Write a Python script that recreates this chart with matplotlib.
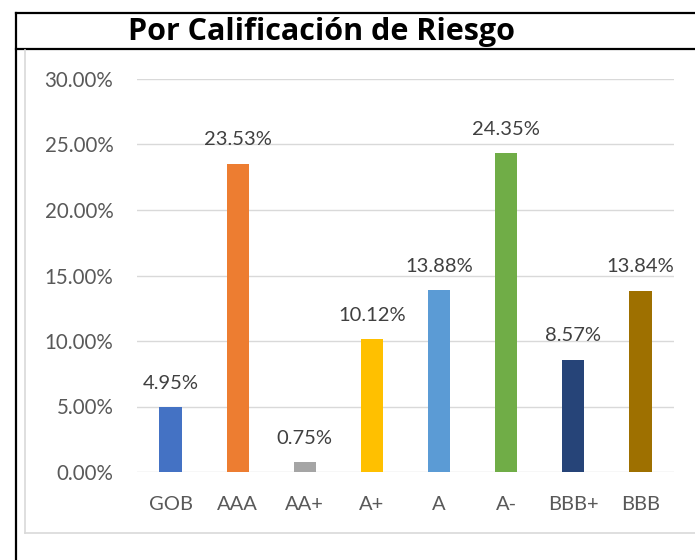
import numpy as np
import matplotlib
matplotlib.use('Agg')
import matplotlib.pyplot as plt
from matplotlib.lines import Line2D

# data
categories = ['GOB', 'AAA', 'AA+', 'A+', 'A', 'A-', 'BBB+', 'BBB']
values = [4.95, 23.53, 0.75, 10.12, 13.88, 24.35, 8.57, 13.84]
colors = ['#4472C4', '#ED7D31', '#A5A5A5', '#FFC000', '#5B9BD5', '#70AD47', '#264478', '#9E7000']
yticks = [0, 5, 10, 15, 20, 25, 30]

W, H = 695, 560
fig = plt.figure(figsize=(W/100, H/100), dpi=100)
plt.rcParams['font.family'] = ['Lato', 'DejaVu Sans']

# frame lines (pixel coords -> figure fraction)
def fx(x): return x/W
def fy(y): return 1 - y/H

black = dict(color='black', linewidth=1.6, transform=fig.transFigure)
fig.add_artist(Line2D([fx(16), 1.0], [fy(13), fy(13)], **black))
fig.add_artist(Line2D([fx(16), fx(16)], [fy(13), 0.0], **black))
fig.add_artist(Line2D([fx(16), 1.0], [fy(49), fy(49)], **black))

grey = dict(color='#d9d9d9', linewidth=1.2, transform=fig.transFigure)
fig.add_artist(Line2D([fx(25), fx(25)], [fy(50), fy(533)], **grey))
fig.add_artist(Line2D([fx(25), 1.0], [fy(533), fy(533)], **grey))

fig.text(fx(322), fy(32), 'Por Calificación de Riesgo', ha='center', va='center',
         fontsize=22, fontweight='bold', family=['Open Sans', 'DejaVu Sans'])

ax = fig.add_axes([fx(137), fy(472), fx(674) - fx(137), fy(79) - fy(472)])
x = np.arange(len(categories))
ax.bar(x, values, width=0.33, color=colors, zorder=3)

for xi, v in zip(x, values):
    ax.annotate('%.2f%%' % v, (xi, v), xytext=(0, 11), textcoords='offset points',
                ha='center', va='bottom', fontsize=14.5, color='#404040')

ax.set_xlim(-0.5, len(categories) - 0.5)
ax.set_ylim(0, 30)
ax.set_yticks(yticks)
ax.set_yticklabels(['%.2f%%' % t for t in yticks], fontsize=14.8, color='#595959')
ax.set_xticks(x)
ax.set_xticklabels(categories, fontsize=14.5, color='#595959')
ax.tick_params(length=0)
ax.tick_params(axis='y', pad=17)
ax.tick_params(axis='x', pad=17)
ax.grid(axis='y', color='#d9d9d9', linewidth=1.0, zorder=0)
for s in ax.spines.values():
    s.set_visible(False)

plt.savefig('out.png', dpi=100)
